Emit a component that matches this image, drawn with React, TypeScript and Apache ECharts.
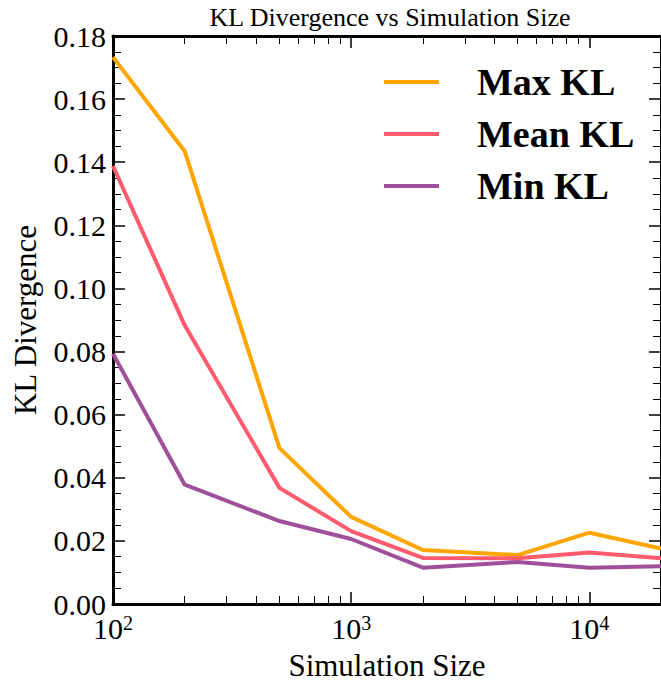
import { useEffect, useRef } from "react";
import * as echarts from "echarts";

// Simulation sizes (log-spaced) and the KL divergence summary at each size
const simulationSizes = [100, 200, 500, 1000, 2000, 5000, 10000, 20000];
const maxKL = [0.1733, 0.1435, 0.0494, 0.0276, 0.0171, 0.0155, 0.0226, 0.0176];
const meanKL = [0.1388, 0.0883, 0.0368, 0.0231, 0.0146, 0.0145, 0.0163, 0.0145];
const minKL = [0.0793, 0.0378, 0.0263, 0.0206, 0.0115, 0.0133, 0.0115, 0.012];

const seriesNames = ["Max KL", "Mean KL", "Min KL"];
const seriesColors = ["#FFA500", "#FF5A6E", "#A0509A"];

// Axis ticks
const xMajorTicks = [100, 1000, 10000];
const xMinorTicks = [200, 300, 400, 500, 600, 700, 800, 900, 2000, 3000, 4000, 5000, 6000, 7000, 8000, 9000];
const xMin = 100;
const xMax = 20000;
const yMin = 0;
const yMax = 0.18;
const yStep = 0.02;

const FONT = "'Liberation Serif', 'Times New Roman', serif";

export default function App() {
  const ref = useRef<HTMLDivElement>(null);

  useEffect(() => {
    if (!ref.current) return;
    const chart = echarts.init(ref.current, null, { renderer: "svg" });

    const spine = { show: true, onZero: false, lineStyle: { color: "#000", width: 3 } };
    const noSpine = { show: false, onZero: false };
    const majorTick = (values: number[]) => ({
      show: true,
      inside: true,
      length: 12,
      customValues: values,
      lineStyle: { color: "#000", width: 1.5 },
    });
    const minorTickX = {
      show: true,
      inside: true,
      length: 8,
      customValues: xMinorTicks,
      lineStyle: { color: "#000", width: 1 },
    };

    const logAxisBase = {
      type: "log" as const,
      logBase: 10,
      min: xMin,
      max: xMax,
      splitLine: { show: false },
      minorTick: { show: false },
      minorSplitLine: { show: false },
    };

    const yAxisBase = {
      type: "value" as const,
      min: yMin,
      max: yMax,
      interval: yStep,
      splitLine: { show: false },
      axisLine: spine,
      axisTick: { show: true, inside: true, length: 12, lineStyle: { color: "#000", width: 1.5 } },
      minorTick: { show: true, splitNumber: 4, length: 8, lineStyle: { color: "#000", width: 1 } },
      minorSplitLine: { show: false },
    };

    const lists = [maxKL, meanKL, minKL];

    chart.setOption({
      animation: false,
      backgroundColor: "#fff",
      textStyle: { fontFamily: FONT, color: "#000" },
      title: {
        text: "KL Divergence vs Simulation Size",
        left: 390,
        top: 4,
        padding: 0,
        textAlign: "center",
        textStyle: { fontFamily: FONT, fontSize: 26, fontWeight: "normal", color: "#000" },
      },
      legend: {
        orient: "vertical",
        left: 384,
        top: 63,
        icon: "rect",
        itemWidth: 55,
        itemHeight: 4,
        itemGap: 14,
        padding: 0,
        data: seriesNames,
        formatter: "{t|{name}}",
        textStyle: {
          fontFamily: FONT,
          color: "#000",
          rich: {
            t: {
              fontFamily: FONT,
              fontSize: 38,
              fontWeight: "bold",
              color: "#000",
              lineHeight: 40,
              padding: [0, 0, 0, 33],
            },
          },
        },
      },
      grid: { left: 113, right: -6, top: 36, bottom: 79, containLabel: false },
      xAxis: [
        {
          ...logAxisBase,
          position: "bottom",
          axisLine: spine,
          axisTick: majorTick(xMajorTicks),
          axisLabel: {
            show: true,
            customValues: xMajorTicks,
            margin: 9,
            formatter: (v: number) => `{b|10}{s|${Math.round(Math.log10(v))}}`,
            rich: {
              b: { fontFamily: FONT, fontSize: 30, lineHeight: 30, color: "#000", verticalAlign: "bottom" },
              s: { fontFamily: FONT, fontSize: 20, lineHeight: 20, color: "#000", verticalAlign: "top" },
            },
          },
          name: "Simulation Size",
          nameLocation: "middle",
          nameGap: 46,
          nameTextStyle: { fontFamily: FONT, fontSize: 31, color: "#000", verticalAlign: "top" },
        },
        {
          ...logAxisBase,
          position: "top",
          axisLine: spine,
          axisTick: majorTick(xMajorTicks),
          axisLabel: { show: false },
        },
        {
          ...logAxisBase,
          position: "bottom",
          axisLine: noSpine,
          axisTick: minorTickX,
          axisLabel: { show: false },
        },
        {
          ...logAxisBase,
          position: "top",
          axisLine: noSpine,
          axisTick: minorTickX,
          axisLabel: { show: false },
        },
      ],
      yAxis: [
        {
          ...yAxisBase,
          position: "left",
          axisLabel: {
            show: true,
            margin: 7,
            fontFamily: FONT,
            fontSize: 30,
            color: "#000",
            formatter: (v: number) => v.toFixed(2),
          },
          name: "KL Divergence",
          nameLocation: "middle",
          nameRotate: 90,
          nameGap: 72,
          nameTextStyle: { fontFamily: FONT, fontSize: 31, color: "#000" },
        },
        {
          ...yAxisBase,
          position: "right",
          axisLabel: { show: false },
        },
      ],
      series: seriesNames.map((name, k) => ({
        name,
        type: "line",
        xAxisIndex: 0,
        yAxisIndex: 0,
        showSymbol: false,
        symbol: "none",
        color: seriesColors[k],
        itemStyle: { color: seriesColors[k] },
        lineStyle: { color: seriesColors[k], width: 4 },
        data: simulationSizes.map((x, i) => [x, lists[k][i]]),
      })),
    });

    return () => chart.dispose();
  }, []);

  return (
    <div
      ref={ref}
      style={{ position: "absolute", left: 0, top: 0, width: 661, height: 686, overflow: "hidden" }}
    />
  );
}
